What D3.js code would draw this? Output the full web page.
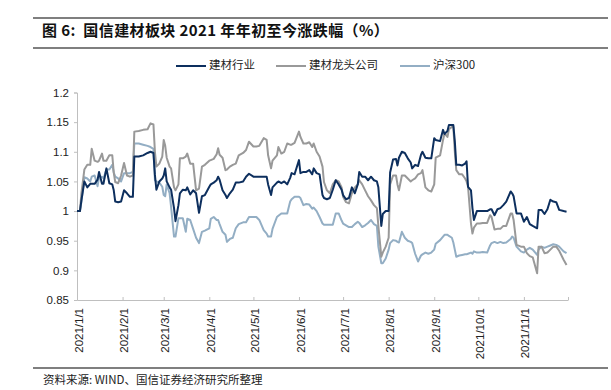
<!DOCTYPE html>
<html>
<head>
<meta charset="utf-8">
<script src="https://cdn.jsdelivr.net/npm/d3@7/dist/d3.min.js"></script>
<style>
  body { margin: 0; background: #fff; }
  svg { display: block; }
  .tick text { font-family: "Liberation Sans", Arial, sans-serif; font-size: 11.5px; fill: #222; }
</style>
</head>
<body>
<svg id="chart" width="611" height="390"></svg>
<script>
// trading-day samples (2021, mm-dd)
const dates = ["01-01","01-03","01-04","01-06","01-08","01-10","01-11","01-13","01-15","01-16","01-18","01-19","01-21","01-23","01-25","01-26","01-27","01-29","01-31",
  "02-02","02-04","02-06","02-08","02-09","02-12","02-15","02-18","02-20","02-22","02-23","02-24","02-26","02-28",
  "03-01","03-02","03-03","03-05","03-06","03-08","03-09","03-11","03-12","03-14","03-16","03-17","03-19","03-21","03-23","03-25","03-27","03-29",
  "04-01","04-02","04-04","04-06","04-07","04-08","04-10","04-12","04-13","04-15","04-17","04-19","04-21","04-24","04-26","04-28",
  "05-01","05-03","05-05","05-08","05-10","05-11","05-13","05-14","05-17","05-18","05-20","05-22","05-24","05-26","05-27","05-29",
  "06-01","06-02","06-04","06-06","06-08","06-10","06-11","06-13","06-15","06-17","06-18","06-20","06-22","06-24","06-26","06-28","06-30",
  "07-01","07-03","07-05","07-07","07-09","07-11","07-12","07-14","07-16","07-18","07-20","07-22","07-24","07-25","07-27","07-28","07-30",
  "08-01","08-02","08-04","08-06","08-07","08-08","08-10","08-12","08-14","08-16","08-17","08-19","08-21","08-23","08-24","08-26","08-28","08-30",
  "09-01","09-02","09-05","09-07","09-08","09-10","09-11","09-13","09-14","09-15","09-16","09-18","09-20","09-22","09-23","09-24","09-26","09-27","09-28","09-30",
  "10-02","10-04","10-07","10-09","10-10","10-12","10-14","10-16","10-18","10-20","10-23","10-24","10-25","10-27","10-30",
  "11-01","11-03","11-05","11-07","11-10","11-11","11-13","11-15","11-17","11-19","11-21","11-23","11-25","11-28","11-30"];

// 建材行业
const industry = [1.000,1.000,1.018,1.050,1.040,1.046,1.046,1.046,1.053,1.066,1.046,1.046,1.072,1.047,1.045,1.035,1.016,1.015,1.016,
  1.035,1.030,1.024,1.024,1.092,1.092,1.094,1.098,1.100,1.098,1.061,1.036,1.050,1.055,
  1.060,1.072,1.050,1.040,1.036,1.005,0.983,1.010,1.030,1.036,1.035,1.040,1.028,1.035,1.030,0.997,1.025,1.027,
  1.041,1.045,1.048,1.052,1.058,1.053,1.035,1.027,1.022,1.030,1.036,1.048,1.048,1.050,1.058,1.063,
  1.058,1.058,1.058,1.058,1.058,1.045,1.027,1.040,1.048,1.050,1.047,1.050,1.045,1.056,1.064,1.062,
  1.086,1.064,1.066,1.066,1.069,1.062,1.072,1.064,1.062,1.027,1.022,1.020,1.022,1.036,1.052,1.045,1.036,
  1.027,1.020,1.022,1.040,1.030,1.045,1.066,1.058,1.058,1.052,1.058,1.052,1.050,1.040,0.975,0.995,1.000,
  1.000,1.065,1.087,1.088,1.077,1.090,1.100,1.098,1.089,1.082,1.072,1.078,1.076,1.095,1.100,1.090,1.089,1.089,
  1.123,1.120,1.118,1.137,1.130,1.135,1.145,1.145,1.145,1.118,1.078,1.078,1.077,1.080,1.084,1.041,1.035,1.005,0.985,1.000,
  1.000,1.000,1.000,1.003,1.003,0.993,1.003,1.005,1.010,1.016,1.033,1.030,1.025,0.996,0.996,
  0.982,0.990,0.978,0.975,0.971,1.002,1.002,0.995,1.003,1.019,1.016,1.015,1.002,1.000,0.999];

// 建材龙头公司
const leaders = [1.000,1.000,1.030,1.070,1.078,1.078,1.105,1.085,1.083,1.085,1.097,1.085,1.085,1.094,1.094,1.065,1.049,1.047,1.060,
  1.081,1.060,1.058,1.060,1.134,1.135,1.137,1.138,1.148,1.146,1.100,1.075,1.080,1.092,
  1.120,1.110,1.090,1.075,1.072,1.040,1.035,1.045,1.089,1.089,1.092,1.097,1.080,1.080,1.035,1.038,1.075,1.078,
  1.085,1.086,1.088,1.096,1.106,1.095,1.090,1.069,1.070,1.075,1.078,1.080,1.094,1.098,1.103,1.117,
  1.109,1.109,1.110,1.123,1.120,1.094,1.072,1.085,1.094,1.108,1.097,1.100,1.114,1.112,1.112,1.115,
  1.134,1.125,1.114,1.114,1.116,1.108,1.114,1.100,1.092,1.075,1.049,1.035,1.030,1.045,1.052,1.050,1.040,
  1.024,1.015,1.013,1.030,1.040,1.045,1.052,1.045,1.035,1.025,1.018,1.010,1.005,0.975,0.923,0.930,0.940,
  0.955,1.045,1.060,1.060,1.045,1.035,1.060,1.060,1.055,1.050,1.052,1.055,1.062,1.064,1.069,1.040,1.035,1.033,
  1.045,1.090,1.094,1.120,1.131,1.125,1.138,1.142,1.142,1.100,1.069,1.062,1.062,1.055,1.050,1.041,0.979,0.962,0.972,0.979,
  0.979,0.980,0.980,0.993,0.990,0.969,0.970,0.970,0.975,0.975,0.996,0.996,0.985,0.943,0.940,
  0.940,0.929,0.924,0.922,0.895,0.940,0.940,0.929,0.930,0.935,0.940,0.940,0.933,0.918,0.909];

// 沪深300
const hs300 = [1.000,1.000,1.015,1.057,1.055,1.050,1.058,1.060,1.042,1.057,1.058,1.055,1.070,1.070,1.078,1.065,1.058,1.055,1.050,
  1.064,1.064,1.064,1.066,1.114,1.114,1.112,1.110,1.108,1.105,1.052,1.050,1.048,1.041,
  1.027,1.025,1.045,1.030,1.007,0.957,0.957,0.988,0.988,0.988,0.965,0.987,0.985,0.970,0.955,0.946,0.965,0.967,
  0.971,0.987,0.990,0.985,0.985,0.978,0.965,0.960,0.948,0.953,0.955,0.971,0.978,0.981,0.981,0.990,
  0.990,0.990,0.985,0.968,0.962,0.957,0.957,0.970,0.990,0.992,0.996,0.996,0.996,1.016,1.020,1.024,
  1.024,1.022,1.010,1.012,1.011,1.004,1.006,1.000,0.990,0.979,0.977,0.977,0.977,0.977,0.996,0.996,0.984,
  0.979,0.976,0.973,0.973,0.978,0.982,0.980,0.973,0.976,0.980,0.985,0.978,0.975,0.940,0.912,0.912,0.920,
  0.935,0.946,0.951,0.950,0.948,0.947,0.965,0.955,0.950,0.948,0.946,0.928,0.915,0.925,0.927,0.930,0.928,0.930,
  0.935,0.945,0.951,0.957,0.960,0.960,0.958,0.955,0.947,0.935,0.923,0.925,0.926,0.927,0.927,0.928,0.930,0.928,0.932,0.930,
  0.930,0.931,0.930,0.942,0.946,0.948,0.946,0.948,0.946,0.947,0.953,0.957,0.955,0.940,0.932,
  0.930,0.935,0.938,0.935,0.926,0.935,0.940,0.938,0.940,0.942,0.944,0.943,0.940,0.932,0.929];

const seriesNames = ["建材行业", "建材龙头公司", "沪深300"];
const seriesColors = ["#0d2f5e", "#999999", "#93aec4"];
const yTicks = [0.85, 0.9, 0.95, 1, 1.05, 1.1, 1.15, 1.2];
const monthTicks = ["2021-01-01","2021-02-01","2021-03-01","2021-04-01","2021-05-01","2021-06-01",
  "2021-07-01","2021-08-01","2021-09-01","2021-10-01","2021-11-01","2021-12-01"];

const title = "图 6:  国信建材板块 2021 年年初至今涨跌幅（%）";
const source = "资料来源: WIND、国信证券经济研究所整理";

const parse = d3.timeParse("%Y-%m-%d");
const days = dates.map(d => parse("2021-" + d));
const series = [industry, leaders, hs300].map((vals, i) => ({
  name: seriesNames[i],
  color: seriesColors[i],
  values: vals.map((v, j) => ({ date: days[j], value: v }))
}));

const svg = d3.select("#chart");
const cjk = '"Noto Sans CJK SC", "Liberation Sans", sans-serif';

// header / footer rules
const rules = [18, 48, 368];
svg.selectAll("line.rule").data(rules).enter().append("line")
  .attr("class", "rule")
  .attr("x1", 33).attr("x2", 608)
  .attr("y1", d => d).attr("y2", d => d)
  .attr("stroke", "#555").attr("stroke-width", 1.3);

svg.append("text")
  .attr("x", 42).attr("y", 32)
  .attr("dominant-baseline", "middle")
  .style("white-space", "pre")
  .style("font-family", cjk).style("font-size", "15px").style("font-weight", "bold")
  .style("letter-spacing", "0.4px")
  .attr("fill", "#111")
  .text(title);

svg.append("text")
  .attr("x", 43).attr("y", 381)
  .attr("dominant-baseline", "middle")
  .style("font-family", cjk).style("font-size", "11.5px")
  .attr("fill", "#222")
  .text(source);

// scales
const x = d3.scaleTime().domain([parse("2021-01-01"), parse("2021-12-01")]).range([77, 568]);
const y = d3.scaleLinear().domain([0.85, 1.2]).range([300, 92.5]);

// y axis
const yAxis = svg.append("g")
  .attr("transform", "translate(77,0)")
  .call(d3.axisLeft(y).tickValues(yTicks).tickSize(3).tickPadding(5)
    .tickFormat(d => String(+d.toFixed(2))));
yAxis.selectAll("path, line").attr("stroke", "#bfbfbf");

// x axis
const fmt = d3.timeFormat("%Y/%-m/%-d");
const xAxis = svg.append("g")
  .attr("transform", "translate(0,300)")
  .call(d3.axisBottom(x).tickValues(monthTicks.map(parse))
    .tickSizeInner(-3).tickSizeOuter(0)
    .tickFormat(d => d.getMonth() === 11 ? "" : fmt(d)));
xAxis.selectAll("path, line").attr("stroke", "#bfbfbf");
xAxis.selectAll("text")
  .attr("transform", "rotate(-90)")
  .attr("text-anchor", "end")
  .attr("x", -8).attr("y", 1)
  .attr("dy", "0.35em");

// lines
const line = d3.line().x(d => x(d.date)).y(d => y(d.value));
svg.selectAll("path.series").data(series.slice().reverse()).enter().append("path")
  .attr("class", "series")
  .attr("fill", "none")
  .attr("stroke", d => d.color)
  .attr("stroke-width", 2)
  .attr("stroke-linejoin", "round")
  .attr("d", d => line(d.values));

// legend
const legendX = [176, 276, 400];
const lg = svg.selectAll("g.legend").data(series).enter().append("g")
  .attr("class", "legend")
  .attr("transform", (d, i) => "translate(" + legendX[i] + ",66)");
lg.append("line").attr("x1", 0).attr("x2", 30)
  .attr("stroke", d => d.color).attr("stroke-width", 2);
lg.append("text")
  .attr("x", 33).attr("dominant-baseline", "middle")
  .style("font-family", cjk).style("font-size", "11.5px")
  .attr("fill", "#222")
  .text(d => d.name);
</script>
</body>
</html>
